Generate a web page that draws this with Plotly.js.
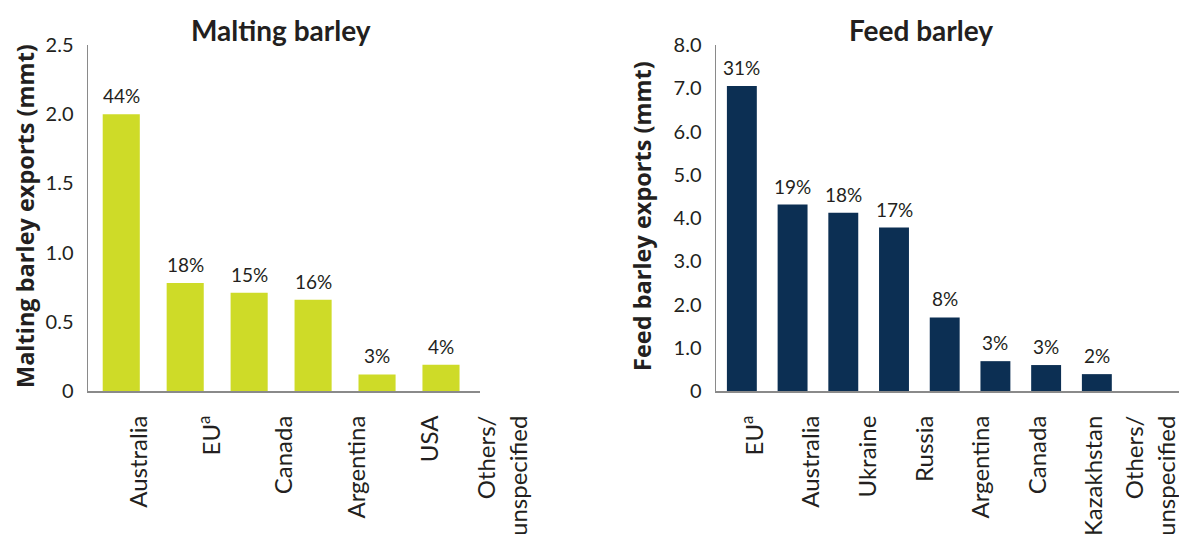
<!DOCTYPE html>
<html>
<head>
<meta charset="utf-8">
<script src="https://cdn.plot.ly/plotly-3.0.1.min.js"></script>
<style>html,body{margin:0;padding:0;background:#fff;}#chart{width:1179px;height:534px;}</style>
</head>
<body>
<div id="chart"></div>
<script>
// Malting barley
const maltCategories = ["Australia", "EU<sup>a</sup>", "Canada", "Argentina", "USA", "Others/<br>unspecified"];
const maltValues = [2.0, 0.78, 0.71, 0.66, 0.12, 0.19];
const maltShares = ["44%", "18%", "15%", "16%", "3%", "4%"];
const maltTickVals = [0, 0.5, 1.0, 1.5, 2.0, 2.5];
const maltTickText = ["0", "0.5", "1.0", "1.5", "2.0", "2.5"];

// Feed barley
const feedCategories = ["EU<sup>a</sup>", "Australia", "Ukraine", "Russia", "Argentina", "Canada", "Kazakhstan", "Others/<br>unspecified"];
const feedValues = [7.05, 4.31, 4.12, 3.78, 1.70, 0.69, 0.60, 0.39];
const feedShares = ["31%", "19%", "18%", "17%", "8%", "3%", "3%", "2%"];
const feedTickVals = [0, 1, 2, 3, 4, 5, 6, 7, 8];
const feedTickText = ["0", "1.0", "2.0", "3.0", "4.0", "5.0", "6.0", "7.0", "8.0"];

const FONT = "Lato, 'Open Sans', sans-serif";
const TITLEFONT = "'Open Sans', Lato, sans-serif";
const TXT = "#231f20";
const W = 1179, H = 534;
const px = v => v / W;
const py = v => (H - v) / H;

const traces = [
  {
    type: "bar", x: maltCategories, y: maltValues,
    marker: {color: "#cedb28"}, width: 0.58, xaxis: "x", yaxis: "y",
    hoverinfo: "skip"
  },
  {
    type: "bar", x: feedCategories, y: feedValues,
    marker: {color: "#0c2f53"}, width: 0.59, xaxis: "x2", yaxis: "y2",
    hoverinfo: "skip"
  },
  // carriers for the category label axes (draw nothing themselves)
  {
    type: "scatter", mode: "none", x: maltCategories, y: maltValues,
    xaxis: "x3", yaxis: "y", hoverinfo: "skip", showlegend: false
  },
  {
    type: "scatter", mode: "none", x: feedCategories, y: feedValues,
    xaxis: "x4", yaxis: "y2", hoverinfo: "skip", showlegend: false
  }
];

const yDom = [py(391), py(45)];
const axisLine = "#8a8a8a";

function shareLabels(cats, vals, shares, xr, yr) {
  return cats.map((c, i) => ({
    text: shares[i], x: c, y: vals[i], xref: xr, yref: yr,
    xanchor: "center", yanchor: "bottom", yshift: 5, showarrow: false,
    font: {family: FONT, size: 19, color: TXT}
  }));
}

// category label axes (labels in the source sit slightly offset from the bars)
function labelAxis(domain, range, anchor) {
  return {
    domain: domain, anchor: anchor, range: range, type: "category",
    showline: false, showgrid: false, zeroline: false,
    tickangle: -90, ticks: "outside", ticklen: 14, tickcolor: "rgba(0,0,0,0)",
    tickfont: {family: FONT, size: 24, color: TXT}, automargin: false
  };
}

const barAxis = (domain, range, anchor) => ({
  domain: domain, anchor: anchor, range: range, type: "category",
  showline: true, linecolor: axisLine, linewidth: 1.5, showgrid: false, zeroline: false,
  showticklabels: false, ticks: "", automargin: false
});

const yAxis = (range, vals, text, anchor) => ({
  domain: yDom, anchor: anchor, range: range,
  showline: true, linecolor: axisLine, linewidth: 1.5, showgrid: false, zeroline: false,
  tickvals: vals, ticktext: text,
  ticks: "outside", ticklen: 9, tickcolor: "rgba(0,0,0,0)",
  tickfont: {family: FONT, size: 20, color: TXT}, automargin: false
});

const layout = {
  width: W, height: H,
  margin: {l: 0, r: 0, t: 0, b: 0},
  paper_bgcolor: "#ffffff", plot_bgcolor: "rgba(0,0,0,0)",
  showlegend: false,
  font: {family: FONT, color: TXT},
  xaxis: barAxis([px(88), px(480)], [-0.52, 5.61], "y"),
  yaxis: yAxis([0, 2.5], maltTickVals, maltTickText, "x"),
  xaxis2: barAxis([px(716), 1], [-0.51, 8.62], "y2"),
  yaxis2: yAxis([0, 8], feedTickVals, feedTickText, "x2"),
  xaxis3: labelAxis([px(88), px(560)], [-0.70, 5.78], "y"),
  xaxis4: labelAxis([px(716), 1], [-0.689, 7.49], "y2"),
  annotations: [
    {text: "<b>Malting barley</b>", xref: "paper", yref: "paper", x: px(281), y: py(30),
     xanchor: "center", yanchor: "middle", showarrow: false,
     font: {family: FONT, size: 28, color: TXT}},
    {text: "<b>Feed barley</b>", xref: "paper", yref: "paper", x: px(921), y: py(30),
     xanchor: "center", yanchor: "middle", showarrow: false,
     font: {family: FONT, size: 28, color: TXT}},
    {text: "<b>Malting barley exports (mmt)</b>", xref: "paper", yref: "paper", x: px(25), y: py(216),
     xanchor: "center", yanchor: "middle", textangle: -90, showarrow: false,
     font: {family: TITLEFONT, size: 23.5, color: TXT}},
    {text: "<b>Feed barley exports (mmt)</b>", xref: "paper", yref: "paper", x: px(642), y: py(216),
     xanchor: "center", yanchor: "middle", textangle: -90, showarrow: false,
     font: {family: TITLEFONT, size: 23.5, color: TXT}}
  ].concat(
    shareLabels(maltCategories, maltValues, maltShares, "x", "y"),
    shareLabels(feedCategories, feedValues, feedShares, "x2", "y2")
  )
};

Plotly.newPlot("chart", traces, layout, {staticPlot: true, displayModeBar: false});
</script>
</body>
</html>
